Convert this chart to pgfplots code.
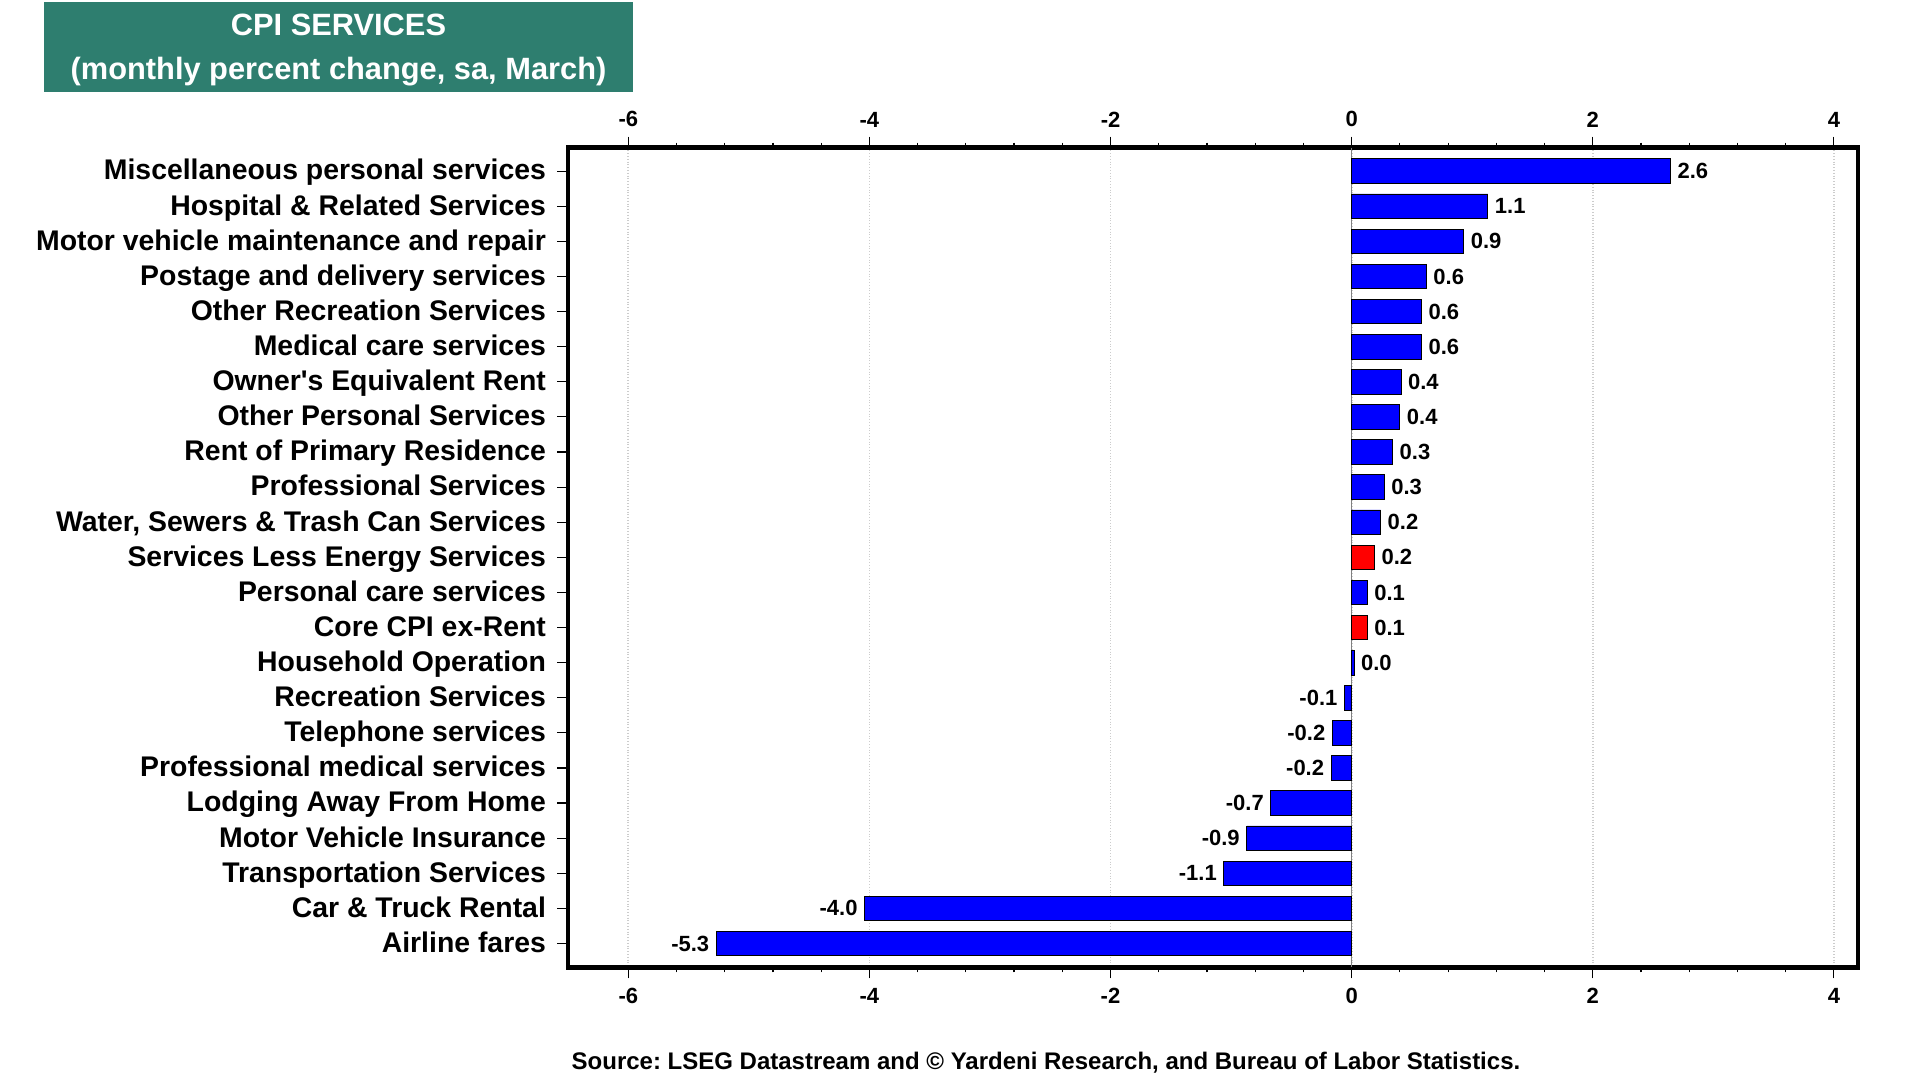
\documentclass[border=0pt]{standalone}
\usepackage{fontspec}
\setmainfont{Liberation Sans}
\usepackage{pgfplots}
\pgfplotsset{compat=1.18}
\definecolor{titlegreen}{RGB}{46,126,111}
\definecolor{barblue}{RGB}{0,0,255}
\definecolor{barred}{RGB}{255,0,0}
\begin{document}
\frenchspacing
\begin{tikzpicture}
\path[use as bounding box, fill=white] (0,0) rectangle (960pt,540pt);
\fill[titlegreen] (22pt,494pt) rectangle (316.5pt,538.75pt);
\node[text=white, font=\fontsize{15.4}{18}\selectfont\bfseries] at (169.25pt,527.7pt) {CPI SERVICES};
\node[text=white, font=\fontsize{15.4}{18}\selectfont\bfseries] at (169.25pt,504.4pt) {(monthly percent change, sa, March)};
\node[font=\fontsize{12}{14}\selectfont\bfseries] at (523pt,8.5pt) {Source: LSEG Datastream and © Yardeni Research, and Bureau of Labor Statistics.};

\begin{axis}[
  at={(284pt,56.3pt)}, anchor=south west, scale only axis,
  width=645pt, height=409.9pt,
  xbar, bar width=0.7, bar shift=0pt,
  xmin=-6.5, xmax=4.2, ymin=-0.67, ymax=22.68, y dir=reverse,
  xtick={-6,-4,...,4}, minor x tick num=4,
  xtick pos=both, ytick pos=left, tick align=outside,
  major tick length=5.5pt, minor tick length=2.5pt,
  tick style={black, line width=0.6pt},
  axis line style={line width=2.2pt},
  ytick={0,...,22},
  typeset ticklabels with strut,
  yticklabels={Miscellaneous personal services, Hospital \& Related Services, Motor vehicle maintenance and repair, Postage and delivery services, Other Recreation Services, Medical care services, Owner\textquotesingle s Equivalent Rent, Other Personal Services, Rent of Primary Residence, Professional Services, {Water, Sewers \& Trash Can Services}, Services Less Energy Services, Personal care services, Core CPI ex-Rent, Household Operation, Recreation Services, Telephone services, Professional medical services, Lodging Away From Home, Motor Vehicle Insurance, Transportation Services, Car \& Truck Rental, Airline fares},
  xmajorgrids,
  major grid style={gray!40, densely dotted, line width=0.9pt},
  /pgf/number format/assume math mode=true,
  xticklabel style={font=\fontsize{11}{13}\selectfont\bfseries},
  yticklabel style={font=\fontsize{14.2}{16}\selectfont\bfseries, xshift=-2pt, yshift=-1.2pt},
  point meta=x,
  nodes near coords={\pgfmathprintnumber[fixed,fixed zerofill,precision=1,assume math mode=true]{\pgfplotspointmeta}},
  nodes near coords align={horizontal},
  every node near coord/.append style={font=\fontsize{11}{13}\selectfont\bfseries, black},
]
\draw[gray, line width=0.8pt] (axis cs:0,-0.67) -- (axis cs:0,22.68);
\addplot[fill=barblue, draw=black, line width=0.4pt] coordinates {
(2.645,0) (1.13,1) (0.93,2) (0.62,3) (0.58,4) (0.58,5) (0.41,6) (0.40,7)
(0.34,8) (0.27,9) (0.24,10) (0.13,12) (0.02,14) (-0.06,15) (-0.16,16)
(-0.17,17) (-0.67,18) (-0.87,19) (-1.06,20) (-4.04,21) (-5.27,22)};
\addplot[fill=barred, draw=black, line width=0.4pt] coordinates {(0.19,11) (0.13,13)};
\end{axis}

\begin{axis}[
  at={(284pt,56.3pt)}, anchor=south west, scale only axis,
  width=645pt, height=409.9pt,
  xmin=-6.5, xmax=4.2, ymin=0, ymax=1,
  hide y axis, axis x line*=top,
  x axis line style={draw=none},
  xtick={-6,-4,...,4}, minor x tick num=0,
  tick align=outside, major tick length=5.5pt,
  xtick style={draw=none},
  /pgf/number format/assume math mode=true,
  xticklabel style={font=\fontsize{11}{13}\selectfont\bfseries, yshift=1.2pt},
]
\addplot[draw=none] coordinates {(0,0)};
\end{axis}
\end{tikzpicture}
\end{document}
